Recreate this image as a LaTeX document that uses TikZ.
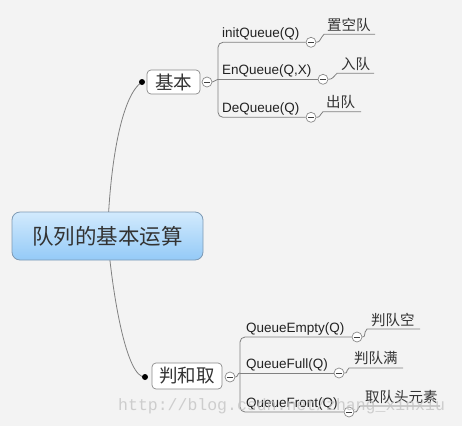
\documentclass[tikz,border=0pt]{standalone}
\usepackage{fontspec}
\setmainfont{Liberation Sans}
\newfontfamily\cjk{Noto Sans CJK SC}
\newfontfamily\wmfont{Liberation Mono}
\pgfdeclarelayer{bg}
\pgfdeclarelayer{edges}
\pgfsetlayers{bg,edges,main}
\definecolor{bgc}{HTML}{F3F3F3}
\definecolor{edgec}{HTML}{808080}
\definecolor{boxc}{HTML}{8A8A8A}
\definecolor{rootedge}{HTML}{7E9AB4}
\definecolor{roottop}{HTML}{D2EAFD}
\definecolor{rootbot}{HTML}{94CAF7}
\definecolor{txtc}{HTML}{222222}
\definecolor{cntxt}{HTML}{333333}
\definecolor{wmc}{HTML}{C4C4C4}
\begin{document}
\begin{tikzpicture}[x=1pt,y=-1pt,
  root/.style={draw=rootedge, line width=0.8pt, rounded corners=8pt,
    top color=roottop, bottom color=rootbot, minimum width=191pt, minimum height=48pt,
    inner sep=0pt, font=\cjk\fontsize{21.5pt}{24pt}\selectfont, text=cntxt},
  subbox/.style={draw=boxc, line width=0.7pt, rounded corners=4pt, fill=white,
    inner sep=0pt, font=\cjk\fontsize{18.5pt}{22pt}\selectfont, text=cntxt},
  dotnode/.style={circle, fill=black, minimum size=6pt, inner sep=0pt},
  col/.style={circle, draw=boxc, line width=0.7pt, fill=white, minimum size=10pt, inner sep=0pt,
    path picture={\draw[line width=0.8pt, black!75] (path picture bounding box.center) +(-2.6,0) -- +(2.6,0);}},
  edge/.style={draw=edgec, line width=0.8pt},
  entxt/.style={anchor=base west, inner sep=0pt, text=txtc, font=\fontsize{13.5pt}{16pt}\selectfont},
  cntxtnode/.style={anchor=base west, inner sep=0pt, text=cntxt, font=\cjk\fontsize{14.5pt}{17pt}\selectfont},
  wm/.style={anchor=base west, inner sep=0pt, text=wmc, font=\wmfont\fontsize{16.5pt}{18pt}\selectfont}
]
\begin{pgfonlayer}{bg}
\fill[bgc] (0,0) rectangle (462,426);
\end{pgfonlayer}
\useasboundingbox (0,0) rectangle (462,426);

% main nodes
\node[root] (root) at (107.5,236) {队列的基本运算};
\node[subbox, minimum width=53pt, minimum height=24pt] (jb) at (173.5,82) {基本};
\node[subbox, minimum width=70pt, minimum height=26pt] (pq) at (187,376) {判和取};
\node[dotnode] (d1) at (142,82) {};
\node[dotnode] (d2) at (145,377) {};
\node[col] (c0) at (207,82) {};
\node[col] (c7) at (230,377) {};

% group 1 circles and bracket points
\node[col] (c1) at (311,42.3) {};
\node[col] (c2) at (323,79.3) {};
\node[col] (c3) at (311,117.3) {};
\coordinate (b1t) at (218,42.3);
\coordinate (b1m) at (218,79.3);
\coordinate (b1b) at (218,117.3);

% group 2 circles and bracket points
\node[col] (c4) at (357,337) {};
\node[col] (c5) at (339,373) {};
\node[col] (c6) at (349,412) {};
\coordinate (b2t) at (240,337);
\coordinate (b2m) at (240,373);
\coordinate (b2b) at (240,412);

% leaf underline points
\coordinate (l1s) at (324,34.3);  \coordinate (l1e) at (375,34.3);
\coordinate (l2s) at (337,73.3);  \coordinate (l2e) at (374,73.3);
\coordinate (l3s) at (323,111.7); \coordinate (l3e) at (361,111.7);
\coordinate (l4s) at (367,329);   \coordinate (l4e) at (420,329);
\coordinate (l5s) at (349,368);   \coordinate (l5e) at (403,368);
\coordinate (l6s) at (360,406);   \coordinate (l6e) at (440,406);

% texts
\node[entxt] (t1) at (222,37.3) {initQueue(Q)};
\node[entxt] (t2) at (222,74.3) {EnQueue(Q,X)};
\node[entxt] (t3) at (222,112.3) {DeQueue(Q)};
\node[entxt] (t4) at (246,332) {QueueEmpty(Q)};
\node[entxt] (t5) at (246,368) {QueueFull(Q)};
\node[entxt] (t6) at (246,407) {QueueFront(Q)};

\node[cntxtnode] (s1) at (327,30.5) {置空队};
\node[cntxtnode] (s2) at (341,69.5) {入队};
\node[cntxtnode] (s3) at (326,107.8) {出队};
\node[cntxtnode] (s4) at (371,325.8) {判队空};
\node[cntxtnode] (s5) at (354,363.8) {判队满};
\node[cntxtnode] (s6) at (365,402.8) {取队头元素};

\begin{pgfonlayer}{edges}
\draw[edge] (root.center) .. controls (110,160) and (122,95) .. (d1.center);
\draw[edge] (root.center) .. controls (113,300) and (127,378) .. (d2.center);
% group 1
\draw[edge] (c0.east) .. controls +(3,0) and +(-3,0) .. (b1m);
\draw[edge, rounded corners=5pt] (c1.west) -- (b1t) -- (b1b) -- (c3.west);
\draw[edge] (b1m) -- (c2.west);
\draw[edge] (c1.east) .. controls +(4,0) and +(-4,4) .. (l1s) -- (l1e);
\draw[edge] (c2.east) .. controls +(4,0) and +(-4,4) .. (l2s) -- (l2e);
\draw[edge] (c3.east) .. controls +(4,0) and +(-4,4) .. (l3s) -- (l3e);
% group 2
\draw[edge] (c7.east) .. controls +(3,0) and +(-3,0) .. (b2m);
\draw[edge, rounded corners=5pt] (c4.west) -- (b2t) -- (b2b) -- (c6.west);
\draw[edge] (b2m) -- (c5.west);
\draw[edge] (c4.east) .. controls +(4,0) and +(-4,4) .. (l4s) -- (l4e);
\draw[edge] (c5.east) .. controls +(4,0) and +(-4,4) .. (l5s) -- (l5e);
\draw[edge] (c6.east) .. controls +(4,0) and +(-4,4) .. (l6s) -- (l6e);
\end{pgfonlayer}

% watermark
\node[wm, opacity=0.8] (wmark) at (118,410) {http://blog.csdn.net/zhang\_xinxiu};
\end{tikzpicture}
\end{document}
